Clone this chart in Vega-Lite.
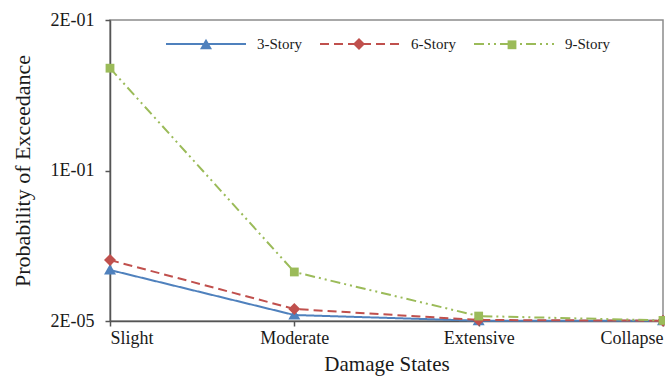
{
  "$schema": "https://vega.github.io/schema/vega-lite/v6.json",
  "width": 553,
  "height": 301,
  "autosize": "none",
  "padding": {"left": 110, "top": 20, "right": 2, "bottom": 62},
  "background": "white",
  "config": {
    "font": "Liberation Serif",
    "view": {"stroke": "#8c8c8c", "strokeWidth": 1.5}
  },
  "data": {
    "values": [
      {"state": "Slight", "series": "3-Story", "p": 0.0339},
      {"state": "Moderate", "series": "3-Story", "p": 0.0040},
      {"state": "Extensive", "series": "3-Story", "p": 0.0002},
      {"state": "Collapse", "series": "3-Story", "p": 0.0001},
      {"state": "Slight", "series": "6-Story", "p": 0.0405},
      {"state": "Moderate", "series": "6-Story", "p": 0.0080},
      {"state": "Extensive", "series": "6-Story", "p": 0.0007},
      {"state": "Collapse", "series": "6-Story", "p": 0.0002},
      {"state": "Slight", "series": "9-Story", "p": 0.1680},
      {"state": "Moderate", "series": "9-Story", "p": 0.0326},
      {"state": "Extensive", "series": "9-Story", "p": 0.0033},
      {"state": "Collapse", "series": "9-Story", "p": 0.0004}
    ]
  },
  "encoding": {
    "x": {
      "field": "state", "type": "ordinal", "sort": ["Slight", "Moderate", "Extensive", "Collapse"],
      "scale": {"type": "point", "padding": 0},
      "axis": {
        "title": "Damage States", "titleFontSize": 21, "titleFontWeight": "normal", "titleColor": "#1a1a1a",
        "titlePadding": 6, "labelFontSize": 18, "labelColor": "#1a1a1a", "labelAngle": 0, "labelPadding": 3,
        "labelFlush": true,
        "domainColor": "#555", "domainWidth": 1.5, "tickColor": "#555", "tickSize": 5, "tickWidth": 1.5, "grid": false
      }
    },
    "y": {
      "field": "p", "type": "quantitative",
      "scale": {"domain": [0.00002, 0.20002], "nice": false, "zero": false},
      "axis": {
        "title": "Probability of Exceedance", "titleFontSize": 22, "titleFontWeight": "normal", "titleColor": "#1a1a1a",
        "titlePadding": 16, "values": [0.00002, 0.10002, 0.20002],
        "labelExpr": "datum.value < 0.05 ? '2E-05' : (datum.value < 0.15 ? '1E-01' : '2E-01')",
        "labelFontSize": 18, "labelColor": "#1a1a1a", "labelPadding": 11,
        "domainColor": "#555", "domainWidth": 1.5, "tickColor": "#555", "tickSize": 5, "tickWidth": 1.5, "grid": false
      }
    }
  },
  "layer": [
    {
      "mark": {"type": "line", "strokeWidth": 2},
      "encoding": {
        "stroke": {
          "field": "series", "type": "nominal",
          "scale": {"domain": ["3-Story", "6-Story", "9-Story"], "range": ["#4F81BD", "#C0504D", "#9BBB59"]},
          "legend": {
            "orient": "none", "legendX": 55, "legendY": -17, "direction": "horizontal", "title": null,
            "symbolType": "stroke", "symbolSize": 6400, "symbolStrokeWidth": 2, "padding": 0,
            "labelFontSize": 15, "labelColor": "#1a1a1a", "labelOffset": 10, "columnPadding": 14
          }
        },
        "strokeDash": {
          "field": "series", "type": "nominal",
          "scale": {"domain": ["3-Story", "6-Story", "9-Story"], "range": [[1, 0], [9, 5], [10, 4, 2, 4, 2, 4]]},
          "legend": {
            "orient": "none", "legendX": 55, "legendY": -17, "direction": "horizontal", "title": null,
            "symbolType": "stroke", "symbolSize": 6400, "symbolStrokeWidth": 2, "padding": 0,
            "labelFontSize": 15, "labelColor": "#1a1a1a", "labelOffset": 10, "columnPadding": 14
          }
        }
      }
    },
    {
      "mark": {"type": "point", "filled": true, "opacity": 1, "size": 6400},
      "encoding": {
        "fill": {
          "field": "series", "type": "nominal",
          "scale": {"range": ["#4F81BD", "#C0504D", "#9BBB59"]},
          "legend": {
            "orient": "none", "legendX": 55, "legendY": -17, "direction": "horizontal", "title": null,
            "symbolSize": 6400, "symbolStrokeWidth": 2, "padding": 0, "labelExpr": "''",
            "labelFontSize": 15, "labelOffset": 10, "columnPadding": 61
          }
        },
        "shape": {
          "field": "series", "type": "nominal",
          "scale": {
            "range": [
              "M0,-0.15L0.15,0.11L-0.15,0.11Z",
              "M0,-0.15L0.15,0L0,0.15L-0.15,0Z",
              "M-0.11,-0.11L0.11,-0.11L0.11,0.11L-0.11,0.11Z"
            ]
          },
          "legend": {
            "orient": "none", "legendX": 55, "legendY": -17, "direction": "horizontal", "title": null,
            "symbolSize": 6400, "symbolStrokeWidth": 2, "padding": 0, "labelExpr": "''",
            "labelFontSize": 15, "labelOffset": 10, "columnPadding": 61
          }
        }
      }
    }
  ]
}
